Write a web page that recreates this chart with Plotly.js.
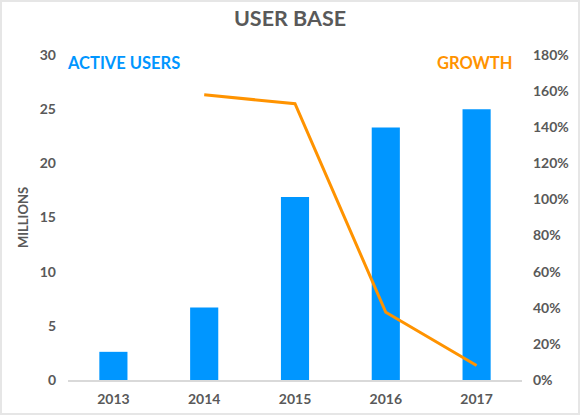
<!DOCTYPE html>
<html>
<head>
<meta charset="utf-8">
<script src="https://cdn.plot.ly/plotly-3.0.1.min.js"></script>
<style>
  body { margin: 0; background: #fff; }
  #wrap { position: relative; width: 580px; height: 415px; }
  #chart { width: 580px; height: 415px; }
  #frame { position: absolute; left: 0; top: 0; width: 580px; height: 415px;
    box-sizing: border-box; border: 2px solid #e6e6e6; pointer-events: none; }
</style>
</head>
<body>
<div id="wrap">
  <div id="chart"></div>
  <div id="frame"></div>
</div>
<script>
const years = ['2013', '2014', '2015', '2016', '2017'];
const activeUsers = [2.6, 6.7, 16.9, 23.3, 25.0];
const growthYears = ['2014', '2015', '2016', '2017'];
const growth = [1.58, 1.53, 0.375, 0.08];

const blue = '#0096ff';
const orange = '#ff9300';
const grey = '#595959';
const font = 'Lato, "Open Sans", sans-serif';
const tickFont = { size: 14, color: grey, family: font, weight: 'bold' };

const data = [
  {
    type: 'bar',
    x: years,
    y: activeUsers,
    marker: { color: blue },
    hoverinfo: 'skip'
  },
  {
    type: 'scatter',
    mode: 'lines',
    x: growthYears,
    y: growth,
    yaxis: 'y2',
    line: { color: orange, width: 3 },
    hoverinfo: 'skip'
  }
];

const layout = {
  width: 580,
  height: 415,
  margin: { l: 68, r: 58, t: 55, b: 35 },
  paper_bgcolor: '#fff',
  plot_bgcolor: '#fff',
  showlegend: false,
  bargap: 0.69,
  font: { family: font, color: grey, size: 13 },
  title: {
    text: '<b>USER BASE</b>',
    font: { size: 21.5, color: grey, family: font },
    x: 0.5, xanchor: 'center', y: 0.955, yanchor: 'middle'
  },
  xaxis: {
    type: 'category',
    showgrid: false,
    showline: true,
    linecolor: '#d9d9d9',
    linewidth: 1.5,
    ticks: '',
    ticklabelstandoff: 6,
    tickfont: tickFont,
    fixedrange: true
  },
  yaxis: {
    range: [0, 30],
    dtick: 5,
    showgrid: false,
    zeroline: false,
    ticks: '',
    ticklabelstandoff: 11,
    tickfont: tickFont,
    title: { text: '<b>MILLIONS</b>', font: { size: 13, color: grey, family: font }, standoff: 8 },
    fixedrange: true
  },
  yaxis2: {
    overlaying: 'y',
    side: 'right',
    range: [0, 1.8],
    dtick: 0.2,
    tickformat: '.0%',
    showgrid: false,
    zeroline: false,
    ticks: '',
    ticklabelstandoff: 10,
    tickfont: tickFont,
    fixedrange: true
  },
  annotations: [
    {
      text: '<b>ACTIVE USERS</b>', xref: 'paper', yref: 'paper',
      x: -0.006, y: 0.975, xanchor: 'left', yanchor: 'middle', showarrow: false,
      font: { size: 16.5, color: blue, family: font }
    },
    {
      text: '<b>GROWTH</b>', xref: 'paper', yref: 'paper',
      x: 0.982, y: 0.975, xanchor: 'right', yanchor: 'middle', showarrow: false,
      font: { size: 16.5, color: orange, family: font }
    }
  ]
};

Plotly.newPlot('chart', data, layout, { displayModeBar: false, staticPlot: true });
</script>
</body>
</html>
